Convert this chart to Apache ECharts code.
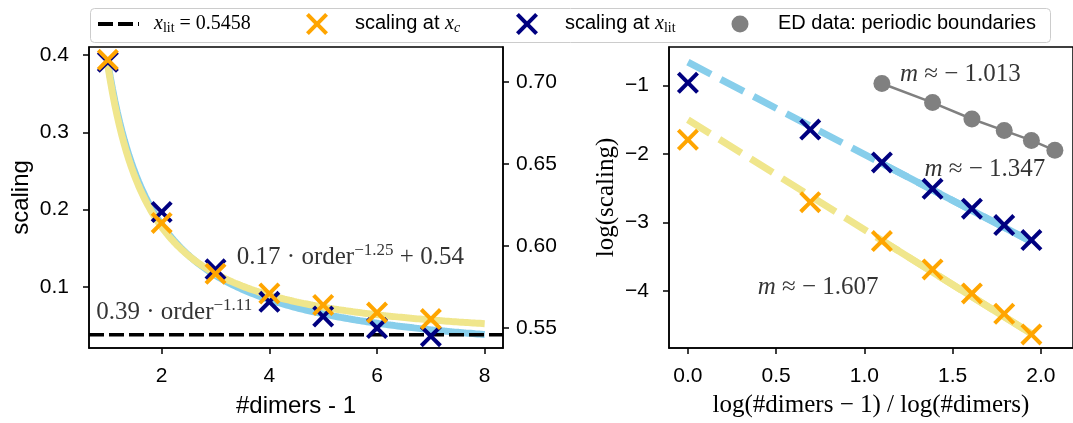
<!DOCTYPE html>
<html>
<head>
<meta charset="utf-8">
<script src="https://cdn.jsdelivr.net/npm/echarts@6/dist/echarts.min.js"></script>
<style>
  html, body { margin: 0; padding: 0; background: #fff; }
  #chart { width: 1073px; height: 423px; }
</style>
</head>
<body>
<div id="chart"></div>
<script>
// ---- left panel: scaling vs. #dimers - 1 ----
const orders = [1, 2, 3, 4, 5, 6, 7];
// scaling at x_lit (left axis)
const scalingLit = [0.391, 0.197, 0.123, 0.081, 0.062, 0.047, 0.0366];
// scaling at x_c (right axis)
const scalingC = [0.7134, 0.614, 0.583, 0.571, 0.564, 0.5594, 0.5554];
const xLit = 0.5458;
// power-law fits: a * order^b (+ c)
const fitLit = [0.39, -1.11];
const fitC = [0.17, -1.25, 0.54];
const fitOrderRange = [1, 8];

// ---- right panel: log-log ----
const logOrders = [0, 0.693, 1.099, 1.386, 1.609, 1.792, 1.946];
const logScalingLit = [-0.96, -1.645, -2.125, -2.51, -2.80, -3.04, -3.26];
const logScalingC = [-1.793, -2.706, -3.274, -3.688, -4.039, -4.336, -4.639];
const logDimersED = [1.099, 1.386, 1.609, 1.792, 1.946, 2.079];
const logScalingED = [-0.971, -1.250, -1.490, -1.659, -1.803, -1.947];
// linear fits in log space: slope m, intercept at 0
const slopeLit = -1.347, interceptLit = -0.66;
const slopeC = -1.607, interceptC = -1.50;
const slopeED = -1.013;
const fullRange = [0, 1.946];
const fitWindow = [1.099, 1.946];

// ---- axis limits and ticks ----
const leftXRange = [0.65, 8.34];
const leftYRange = [0.0213, 0.4102];
const leftY2Range = [0.5378, 0.7212];
const rightXRange = [-0.1072, 2.1817];
const rightYRange = [-4.8366, -0.4375];
const leftXTicks = [2, 4, 6, 8];
const leftXLabels = ['2', '4', '6', '8'];
const leftYTicks = [0.1, 0.2, 0.3, 0.4];
const leftYLabels = ['0.1', '0.2', '0.3', '0.4'];
const leftY2Ticks = [0.55, 0.60, 0.65, 0.70];
const leftY2Labels = ['0.55', '0.60', '0.65', '0.70'];
const rightXTicks = [0, 0.5, 1, 1.5, 2];
const rightXLabels = ['0.0', '0.5', '1.0', '1.5', '2.0'];
const rightYTicks = [-4, -3, -2, -1];
const rightYLabels = ['\u22124', '\u22123', '\u22122', '\u22121'];

const SANS = 'Liberation Sans, Arial, sans-serif';
const SERIF = 'Liberation Serif, Times New Roman, serif';
const NAVY = '#000080', ORANGE = '#ffa500', SKY = '#87ceeb', KHAKI = '#f0e68c', GRAY = '#808080';
// "x" marker outline in a 100 x 100 box
const X_POINTS = [[0, 13], [13, 0], [50, 37], [87, 0], [100, 13], [63, 50], [100, 87], [87, 100], [50, 63], [13, 100], [0, 87], [37, 50]];
const X_MARK = 'path://M' + X_POINTS.map(p => p.join(',')).join('L') + 'Z';

const zip = (xs, ys) => xs.map((x, i) => [x, ys[i]]);
const minus = v => String(v).replace('-', '\u2212');
function powerCurve(p) {
  const pts = [];
  const n = 160;
  for (let i = 0; i <= n; i++) {
    const x = fitOrderRange[0] + (fitOrderRange[1] - fitOrderRange[0]) * i / n;
    pts.push([x, p[0] * Math.pow(x, p[1]) + (p[2] || 0)]);
  }
  return pts;
}
const straight = (b, m, r) => r.map(x => [x, b + m * x]);
const tickFmt = (ticks, labels) => v => {
  const i = ticks.findIndex(t => Math.abs(t - v) < 1e-9);
  return i < 0 ? '' : labels[i];
};

const axisLine = { show: true, onZero: false, lineStyle: { color: '#000', width: 1.5 } };
const tick = vals => ({ show: true, customValues: vals, length: 6, inside: false, lineStyle: { color: '#000', width: 1.5 } });
const label = (vals, labels, margin) => ({
  show: true, customValues: vals, formatter: tickFmt(vals, labels), margin: margin,
  fontSize: 21, fontFamily: SANS, color: '#000'
});

const mathRich = {
  m: { fontFamily: SERIF, fontSize: 25, lineHeight: 30, verticalAlign: 'middle', color: '#000' },
  i: { fontFamily: SERIF, fontStyle: 'italic', fontSize: 25, lineHeight: 30, verticalAlign: 'middle', color: '#000' },
  sup: { fontFamily: SERIF, fontSize: 17, lineHeight: 20, verticalAlign: 'top', color: '#000' }
};
function note(xi, yi, pos, text, z) {
  return {
    type: 'scatter', xAxisIndex: xi, yAxisIndex: yi, silent: true, z: z,
    data: [pos], symbolSize: 1, itemStyle: { color: 'rgba(0,0,0,0)' },
    label: { show: true, position: [0, 0], align: 'left', verticalAlign: 'bottom', offset: [0, 12], formatter: text, rich: mathRich }
  };
}
const powText = p => '{m|' + p[0] + ' \u00b7 order}{sup|' + minus(p[1]) + '}' +
  (p.length > 2 ? '{m| + ' + p[2] + '}' : '');
const slopeText = m => '{i|m}{m| \u2248 \u2212 ' + Math.abs(m).toFixed(3) + '}';

// legend box above both panels
const legendRich = {
  t: { fontFamily: SANS, fontSize: 20, lineHeight: 24, verticalAlign: 'middle', fill: '#000' },
  mi: { fontFamily: SERIF, fontStyle: 'italic', fontSize: 20, lineHeight: 24, verticalAlign: 'middle', fill: '#000' },
  m: { fontFamily: SERIF, fontSize: 20, lineHeight: 24, verticalAlign: 'middle', fill: '#000' },
  sub: { fontFamily: SERIF, fontSize: 14, lineHeight: 14, verticalAlign: 'bottom', fill: '#000' },
  isub: { fontFamily: SERIF, fontStyle: 'italic', fontSize: 14, lineHeight: 14, verticalAlign: 'bottom', fill: '#000' }
};
const legendText = [
  '{mi|x}{sub|lit}{m| = ' + xLit + '}',
  '{t|scaling at }{mi|x}{isub|c}',
  '{t|scaling at }{mi|x}{sub|lit}',
  '{t|ED data: periodic boundaries}'
];
const LEG_Y = 24;
const legendLabel = (x, text) => ({
  type: 'text', x: x, y: LEG_Y - 0.5, silent: true,
  style: { text: text, rich: legendRich, align: 'left', verticalAlign: 'middle', fontFamily: SANS, fontSize: 20, fill: '#000' }
});
const legendX = (cx, color) => ({
  type: 'polygon', silent: true,
  shape: { points: X_POINTS.map(p => [cx - 11 + p[0] * 0.22, LEG_Y - 11 + p[1] * 0.22]) },
  style: { fill: color }
});
const legendGraphics = [
  { type: 'rect', silent: true, shape: { x: 90.5, y: 8.5, width: 960, height: 34, r: 4 },
    style: { fill: '#fff', stroke: '#cccccc', lineWidth: 1 } },
  { type: 'line', silent: true, shape: { x1: 98, y1: LEG_Y, x2: 139, y2: LEG_Y },
    style: { stroke: '#000', lineWidth: 4, lineDash: [15, 5] } },
  legendLabel(154, legendText[0]),
  legendX(317, ORANGE),
  legendLabel(355, legendText[1]),
  legendX(527, NAVY),
  legendLabel(565, legendText[2]),
  { type: 'circle', silent: true, shape: { cx: 740, cy: LEG_Y, r: 8.5 }, style: { fill: GRAY } },
  legendLabel(778, legendText[3])
];

const chart = echarts.init(document.getElementById('chart'), null, { renderer: 'canvas' });
chart.setOption({
  animation: false,
  backgroundColor: '#fff',
  graphic: { elements: legendGraphics },
  grid: [
    { left: 89, top: 47, width: 414, height: 305, show: true, borderColor: '#000', borderWidth: 1.5, backgroundColor: 'transparent' },
    { left: 669, top: 47, width: 412, height: 305, show: true, borderColor: '#000', borderWidth: 1.5, backgroundColor: 'transparent' }
  ],
  xAxis: [
    {
      gridIndex: 0, type: 'value', position: 'bottom', min: leftXRange[0], max: leftXRange[1],
      axisLine: axisLine, axisTick: tick(leftXTicks), axisLabel: label(leftXTicks, leftXLabels, 18),
      splitLine: { show: false },
      name: '#dimers - 1', nameLocation: 'middle', nameGap: 46,
      nameTextStyle: { fontFamily: SANS, fontSize: 24, color: '#000' }
    },
    {
      gridIndex: 1, type: 'value', position: 'bottom', min: rightXRange[0], max: rightXRange[1],
      axisLine: axisLine, axisTick: tick(rightXTicks), axisLabel: label(rightXTicks, rightXLabels, 18),
      splitLine: { show: false },
      name: 'log(#dimers \u2212 1) / log(#dimers)', nameLocation: 'middle', nameGap: 45,
      nameTextStyle: { fontFamily: SERIF, fontSize: 25, color: '#000' }
    }
  ],
  yAxis: [
    {
      gridIndex: 0, type: 'value', position: 'left', min: leftYRange[0], max: leftYRange[1],
      axisLine: axisLine, axisTick: tick(leftYTicks), axisLabel: label(leftYTicks, leftYLabels, 20),
      splitLine: { show: false },
      name: 'scaling', nameLocation: 'middle', nameGap: 56,
      nameTextStyle: { fontFamily: SANS, fontSize: 24, color: '#000' }
    },
    {
      gridIndex: 0, type: 'value', position: 'right', min: leftY2Range[0], max: leftY2Range[1],
      axisLine: axisLine, axisTick: tick(leftY2Ticks), axisLabel: label(leftY2Ticks, leftY2Labels, 13),
      splitLine: { show: false }
    },
    {
      gridIndex: 1, type: 'value', position: 'left', min: rightYRange[0], max: rightYRange[1],
      axisLine: axisLine, axisTick: tick(rightYTicks), axisLabel: label(rightYTicks, rightYLabels, 20),
      splitLine: { show: false },
      name: 'log(scaling)', nameLocation: 'middle', nameGap: 50,
      nameTextStyle: { fontFamily: SERIF, fontSize: 25, color: '#000' }
    }
  ],
  series: [
    // left panel: fitted power laws
    { name: 'fitLit', type: 'line', xAxisIndex: 0, yAxisIndex: 0, data: powerCurve(fitLit),
      symbol: 'none', silent: true, z: 1, lineStyle: { color: SKY, width: 7 } },
    { name: 'fitC', type: 'line', xAxisIndex: 0, yAxisIndex: 1, data: powerCurve(fitC),
      symbol: 'none', silent: true, z: 2, lineStyle: { color: KHAKI, width: 7 } },
    // literature value of x, across the whole panel
    { name: 'xlit', type: 'line', xAxisIndex: 0, yAxisIndex: 1, z: 3, silent: true,
      data: leftXRange.map(x => [x, xLit]), symbol: 'none',
      itemStyle: { color: '#000' }, lineStyle: { color: '#000', width: 3.5, type: [15, 5] } },
    note(0, 0, [0.793, 0.063], powText(fitLit), 4),
    note(0, 1, [3.406, 0.591], powText(fitC), 4),
    { name: 'lit', type: 'scatter', xAxisIndex: 0, yAxisIndex: 0, data: zip(orders, scalingLit),
      symbol: X_MARK, symbolSize: 22, z: 5, itemStyle: { color: NAVY, opacity: 1 } },
    { name: 'c', type: 'scatter', xAxisIndex: 0, yAxisIndex: 1, data: zip(orders, scalingC),
      symbol: X_MARK, symbolSize: 22, z: 6, itemStyle: { color: ORANGE, opacity: 1 } },

    // right panel: log-log fits
    { name: 'logFitLitDash', type: 'line', xAxisIndex: 1, yAxisIndex: 2, data: straight(interceptLit, slopeLit, fullRange),
      symbol: 'none', silent: true, z: 1, lineStyle: { color: SKY, width: 7, type: [26, 11] } },
    { name: 'logFitLit', type: 'line', xAxisIndex: 1, yAxisIndex: 2, data: straight(interceptLit, slopeLit, fitWindow),
      symbol: 'none', silent: true, z: 1, lineStyle: { color: SKY, width: 7 } },
    { name: 'logFitCDash', type: 'line', xAxisIndex: 1, yAxisIndex: 2, data: straight(interceptC, slopeC, fullRange),
      symbol: 'none', silent: true, z: 1, lineStyle: { color: KHAKI, width: 7, type: [26, 11] } },
    { name: 'logFitC', type: 'line', xAxisIndex: 1, yAxisIndex: 2, data: straight(interceptC, slopeC, fitWindow),
      symbol: 'none', silent: true, z: 1, lineStyle: { color: KHAKI, width: 7 } },
    { name: 'EDline', type: 'line', xAxisIndex: 1, yAxisIndex: 2, data: zip(logDimersED, logScalingED),
      symbol: 'none', silent: true, z: 1, lineStyle: { color: GRAY, width: 2.5 } },
    { name: 'ED', type: 'scatter', xAxisIndex: 1, yAxisIndex: 2, data: zip(logDimersED, logScalingED),
      symbol: 'circle', symbolSize: 17, z: 2, itemStyle: { color: GRAY, opacity: 1 } },
    { name: 'lit', type: 'scatter', xAxisIndex: 1, yAxisIndex: 2, data: zip(logOrders, logScalingLit),
      symbol: X_MARK, symbolSize: 22, z: 3, itemStyle: { color: NAVY, opacity: 1 } },
    { name: 'c', type: 'scatter', xAxisIndex: 1, yAxisIndex: 2, data: zip(logOrders, logScalingC),
      symbol: X_MARK, symbolSize: 22, z: 3, itemStyle: { color: ORANGE, opacity: 1 } },
    note(1, 2, [1.204, -0.885], slopeText(slopeED), 4),
    note(1, 2, [1.343, -2.284], slopeText(slopeLit), 4),
    note(1, 2, [0.398, -4.0], slopeText(slopeC), 4)
  ]
});
</script>
</body>
</html>
